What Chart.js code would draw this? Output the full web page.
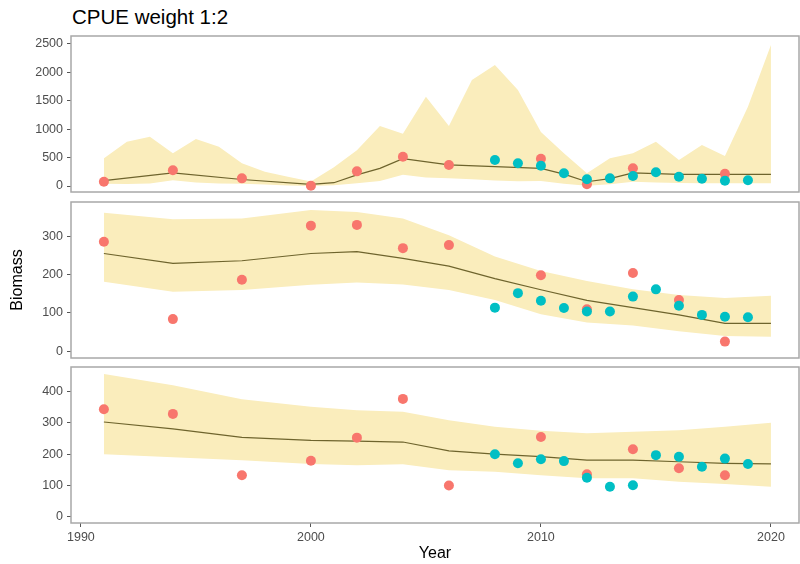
<!DOCTYPE html>
<html>
<head>
<meta charset="utf-8">
<script src="https://cdn.jsdelivr.net/npm/chart.js@4.4.1/dist/chart.umd.min.js"></script>
<style>
  body { margin: 0; background: #fff; }
  #wrap { position: relative; width: 800px; height: 564px; font-family: 'Liberation Sans', Arial, sans-serif; }
  canvas { position: absolute; left: 0; }
  #title { position: absolute; left: 72px; top: 6.6px; font-size: 20.5px; line-height: 20.5px; color: #000; }
</style>
</head>
<body>
<div id="wrap">
  <div id="title">CPUE weight 1:2</div>
  <!-- canvases overlap a bit, padding keeps each plot area where ggplot had it -->
  <canvas id="p1" width="800" height="208" style="top:0px"></canvas>
  <canvas id="p2" width="800" height="188" style="top:186px"></canvas>
  <canvas id="p3" width="800" height="213" style="top:351px"></canvas>
</div>
<script>
// x axis shared by the 3 panels
const xTicks = [1990, 2000, 2010, 2020];
const xMin = 1989.57;
const xMax = 2021.22;

// panel 1 (top) - yearly credible band + median
const years1 = [1991, 1992, 1993, 1994, 1995, 1996, 1997, 1998, 1999, 2000,
  2001, 2002, 2003, 2004, 2005, 2006, 2007, 2008, 2009, 2010,
  2011, 2012, 2013, 2014, 2015, 2016, 2017, 2018, 2019, 2020];
const upper1 = [486, 779, 866, 575, 826, 691, 399, 252, 163, 80,
  330, 630, 1054, 920, 1570, 1054, 1863, 2127, 1687, 950,
  575, 223, 486, 575, 779, 457, 721, 527, 1394, 2478];
const lower1 = [40, 35, 45, 100, 60, 45, 40, 25, 10, 0,
  15, 50, 90, 200, 150, 135, 120, 95, 85, 90,
  40, 5, 30, 75, 60, 55, 50, 50, 50, 50];
const medYears1 = [1991, 1994, 1997, 2000, 2001, 2002, 2003, 2004, 2006, 2008, 2010, 2011, 2012, 2013, 2014, 2016, 2020];
const median1 = [95, 230, 115, 28, 58, 195, 311, 480, 372, 340, 310, 210, 75, 130, 230, 205, 205];
const redYears1 = [1991, 1994, 1997, 2000, 2002, 2004, 2006, 2010, 2012, 2014, 2018];
const red1 = [75, 276, 135, 5, 258, 515, 369, 480, 30, 311, 216];
const tealYears = [2008, 2009, 2010, 2011, 2012, 2013, 2014, 2015, 2016, 2017, 2018, 2019];
const teal1 = [457, 399, 357, 223, 118, 135, 176, 241, 163, 128, 93, 100];

// panels 2 and 3 - smoother bands
const bandYears = [1991, 1994, 1997, 2000, 2002, 2004, 2006, 2008, 2010, 2012, 2014, 2016, 2018, 2020];
const upper2 = [363, 346, 348, 370, 365, 348, 304, 248, 210, 184, 162, 147, 139, 145];
const lower2 = [182, 156, 160, 174, 180, 175, 160, 134, 97, 75, 67, 52, 40, 38];
const median2 = [256, 230, 237, 256, 261, 243, 223, 190, 161, 133, 114, 95, 73, 73];
const redYears = [1991, 1994, 1997, 2000, 2002, 2004, 2006, 2010, 2012, 2014, 2016, 2018];
const red2 = [287, 84, 187, 329, 331, 270, 278, 199, 110, 205, 134, 25];
const teal2 = [114, 152, 132, 113, 104, 104, 143, 162, 119, 95, 90, 89];

const upper3 = [457, 421, 376, 352, 341, 336, 309, 288, 275, 267, 272, 277, 288, 301];
const lower3 = [200, 190, 181, 169, 165, 168, 149, 144, 133, 123, 123, 112, 105, 96];
const median3 = [303, 281, 254, 244, 242, 239, 211, 200, 192, 181, 181, 176, 171, 169];
const red3 = [344, 329, 133, 179, 253, 377, 100, 255, 136, 216, 155, 133];
const teal3 = [200, 171, 184, 178, 125, 96, 101, 197, 192, 160, 186, 169];

// y axis ticks per panel
const yTicks1 = [0, 500, 1000, 1500, 2000, 2500];
const yTicks2 = [0, 100, 200, 300];
const yTicks3 = [0, 100, 200, 300, 400];

// colours
const ribbonCol = 'rgb(250, 237, 188)';
const lineCol = 'rgb(110, 100, 45)';
const redCol = '#F8766D';
const tealCol = '#00BFC4';
const tickCol = '#4d4d4d';

Chart.defaults.font.family = "'Liberation Sans', Arial, sans-serif";

function zip(xs, ys) {
  return xs.map((x, i) => ({ x: x, y: ys[i] }));
}

// grey box round each panel, like the ggplot facet border
const panelBorder = {
  id: 'panelBorder',
  afterDraw(chart) {
    const { ctx, chartArea: a } = chart;
    ctx.save();
    ctx.strokeStyle = '#a8a8a8';
    ctx.lineWidth = 1.5;
    ctx.strokeRect(a.left, a.top, a.right - a.left, a.bottom - a.top);
    ctx.restore();
  }
};

function makePanel(id, o) {
  const ctx = document.getElementById(id).getContext('2d');
  return new Chart(ctx, {
    type: 'line',
    data: {
      datasets: [
        { data: zip(o.bandYears, o.upper), fill: '+1', backgroundColor: ribbonCol,
          borderColor: 'rgba(0,0,0,0)', borderWidth: 0, pointRadius: 0, order: 4 },
        { data: zip(o.bandYears, o.lower), fill: false,
          borderColor: 'rgba(0,0,0,0)', borderWidth: 0, pointRadius: 0, order: 4 },
        { data: zip(o.medYears, o.median), fill: false, borderColor: lineCol,
          borderWidth: 1.2, pointRadius: 0, order: 3 },
        { data: zip(o.redYears, o.red), showLine: false, pointRadius: 5,
          pointBackgroundColor: redCol, pointBorderColor: redCol, pointBorderWidth: 0, order: 2 },
        { data: zip(o.tealYears, o.teal), showLine: false, pointRadius: 5,
          pointBackgroundColor: tealCol, pointBorderColor: tealCol, pointBorderWidth: 0, order: 1 }
      ]
    },
    options: {
      responsive: false,
      animation: false,
      events: [],
      layout: { autoPadding: false, padding: o.padding },
      plugins: { legend: { display: false }, tooltip: { enabled: false } },
      scales: {
        x: {
          type: 'linear', min: xMin, max: xMax, display: o.showX,
          afterBuildTicks: s => { s.ticks = xTicks.map(v => ({ value: v })); },
          afterFit: s => { if (o.showX) s.height = 41; },
          grid: { drawOnChartArea: false, tickLength: 4, tickColor: '#555' },
          border: { display: false },
          ticks: { color: tickCol, font: { size: 12.5 }, padding: 3, autoSkip: false,
            maxRotation: 0, callback: v => String(v) },
          title: { display: o.showX, text: 'Year', color: '#000', font: { size: 16 },
            padding: { top: 0, bottom: 1 } }
        },
        y: {
          type: 'linear', min: o.yMin, max: o.yMax,
          afterBuildTicks: s => { s.ticks = o.yTicks.map(v => ({ value: v })); },
          afterFit: s => { s.width = 71; },
          grid: { drawOnChartArea: false, tickLength: 4, tickColor: '#555' },
          border: { display: false },
          ticks: { color: tickCol, font: { size: 12.5 }, padding: 4, autoSkip: false,
            callback: v => String(v) },
          title: { display: o.showY, text: 'Biomass', color: '#000', font: { size: 16 },
            padding: { top: 8, bottom: 0 } }
        }
      }
    },
    plugins: [panelBorder]
  });
}

makePanel('p1', {
  bandYears: years1, upper: upper1, lower: lower1,
  medYears: medYears1, median: median1,
  redYears: redYears1, red: red1, tealYears: tealYears, teal: teal1,
  yMin: -105, yMax: 2636, yTicks: yTicks1,
  showX: false, showY: false,
  padding: { top: 36, bottom: 16, left: 0, right: 1 }
});

makePanel('p2', {
  bandYears: bandYears, upper: upper2, lower: lower2,
  medYears: bandYears, median: median2,
  redYears: redYears, red: red2, tealYears: tealYears, teal: teal2,
  yMin: -18, yMax: 391, yTicks: yTicks2,
  showX: false, showY: true,
  padding: { top: 16, bottom: 16, left: 0, right: 1 }
});

makePanel('p3', {
  bandYears: bandYears, upper: upper3, lower: lower3,
  medYears: bandYears, median: median3,
  redYears: redYears, red: red3, tealYears: tealYears, teal: teal3,
  yMin: -20, yMax: 479, yTicks: yTicks3,
  showX: true, showY: false,
  padding: { top: 16, bottom: 0, left: 0, right: 1 }
});
</script>
</body>
</html>
